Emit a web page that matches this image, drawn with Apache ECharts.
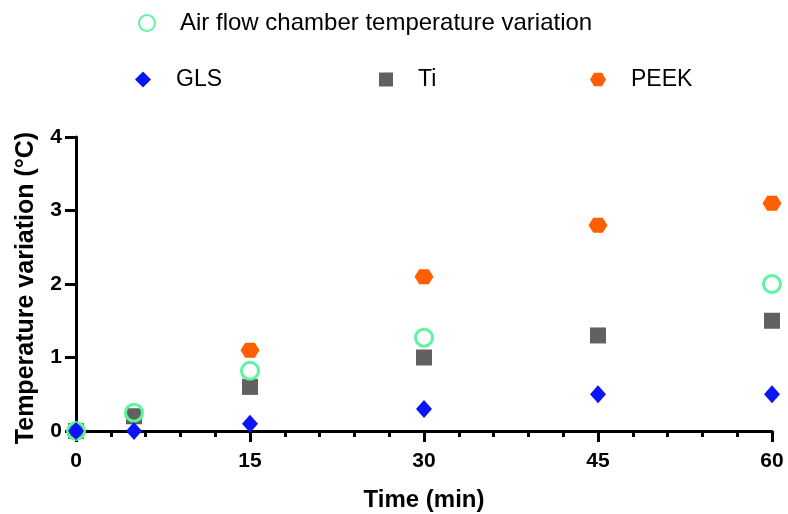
<!DOCTYPE html>
<html>
<head>
<meta charset="utf-8">
<script src="https://cdn.jsdelivr.net/npm/echarts@6/dist/echarts.min.js"></script>
<style>
  html, body { margin: 0; padding: 0; background: #fff; }
  #chart { width: 788px; height: 514px; }
</style>
</head>
<body>
<div id="chart"></div>
<script>
"use strict";
// time points (min)
var times = [0, 5, 15, 30, 45, 60];
// temperature variation (°C) per sample
var airValues = [0, 0.25, 0.82, 1.27, null, 2.0];
var glsValues = [0, 0, 0.1, 0.3, 0.5, 0.5];
var tiValues = [0, 0.2, 0.6, 1.0, 1.3, 1.5];
var peekValues = [0, 0.2, 1.1, 2.1, 2.8, 3.1];

var AIR = 'Air flow chamber temperature variation';
var FONT = 'Arial, "Liberation Sans", sans-serif';
var hexPath = 'path://M0,5 L3,0 L9,0 L12,5 L9,10 L3,10 Z';

function pairs(vals) {
  var out = [];
  for (var i = 0; i < times.length; i++) {
    if (vals[i] !== null) {
      out.push([times[i], vals[i]]);
    }
  }
  return out;
}

/**
 * one legend per entry, so every entry sits where the reference has it
 */
function legendItem(name, left, top, size, fontSize) {
  return {
    data: [name],
    left: left, top: top,
    padding: 0,
    itemWidth: size, itemHeight: size,
    textStyle: { fontFamily: FONT, fontSize: fontSize, color: '#000', padding: [0, 0, 0, 20] }
  };
}

var chart = echarts.init(document.getElementById('chart'));

var option = {
  animation: false,
  legend: [
    legendItem(AIR, 138, 11, 16, 24),
    legendItem('GLS', 135, 68, 16, 23),
    legendItem('Ti', 379, 68, 14, 23),
    legendItem('PEEK', 590, 68, 16, 23)
  ],
  grid: { left: 76, right: 16, top: 137, bottom: 83, outerBoundsMode: 'none' },
  xAxis: {
    type: 'value',
    min: 0, max: 60, interval: 15,
    name: 'Time (min)',
    nameLocation: 'middle',
    nameGap: 57,
    nameTextStyle: { fontFamily: FONT, fontSize: 24, fontWeight: 'bold', color: '#000' },
    axisLine: { lineStyle: { color: '#000', width: 3 } },
    axisTick: { length: 11, lineStyle: { color: '#000', width: 3 } },
    minorTick: { show: true, splitNumber: 5, length: 6, lineStyle: { color: '#000', width: 3 } },
    axisLabel: { margin: 20, fontFamily: FONT, fontSize: 21, fontWeight: 'bold', color: '#000' },
    splitLine: { show: false }
  },
  yAxis: {
    type: 'value',
    min: 0, max: 4, interval: 1,
    name: 'Temperature variation (°C)',
    nameLocation: 'middle',
    nameGap: 37,
    nameTextStyle: { fontFamily: FONT, fontSize: 25, fontWeight: 'bold', color: '#000', padding: [0, 8, 0, 0] },
    axisLine: { show: true, lineStyle: { color: '#000', width: 3 } },
    axisTick: { show: true, length: 11, lineStyle: { color: '#000', width: 3 } },
    axisLabel: { margin: 14, fontFamily: FONT, fontSize: 21, fontWeight: 'bold', color: '#000' },
    splitLine: { show: false }
  },
  series: [
    {
      name: 'PEEK', type: 'scatter',
      symbol: hexPath, symbolSize: [19, 15],
      itemStyle: { color: '#ff5f00', opacity: 1 },
      data: pairs(peekValues)
    },
    {
      name: 'Ti', type: 'scatter',
      symbol: 'rect', symbolSize: 16,
      itemStyle: { color: '#616161', opacity: 1 },
      data: pairs(tiValues)
    },
    {
      name: AIR, type: 'scatter',
      symbol: 'circle', symbolSize: 17,
      itemStyle: { color: 'rgba(255,255,255,0)', borderColor: '#5ef5a0', borderWidth: 3, opacity: 1 },
      data: pairs(airValues)
    },
    {
      name: 'GLS', type: 'scatter',
      symbol: 'diamond', symbolSize: [16, 18],
      itemStyle: { color: '#0a14f5', opacity: 1 },
      data: pairs(glsValues)
    }
  ]
};

chart.setOption(option);
</script>
</body>
</html>
